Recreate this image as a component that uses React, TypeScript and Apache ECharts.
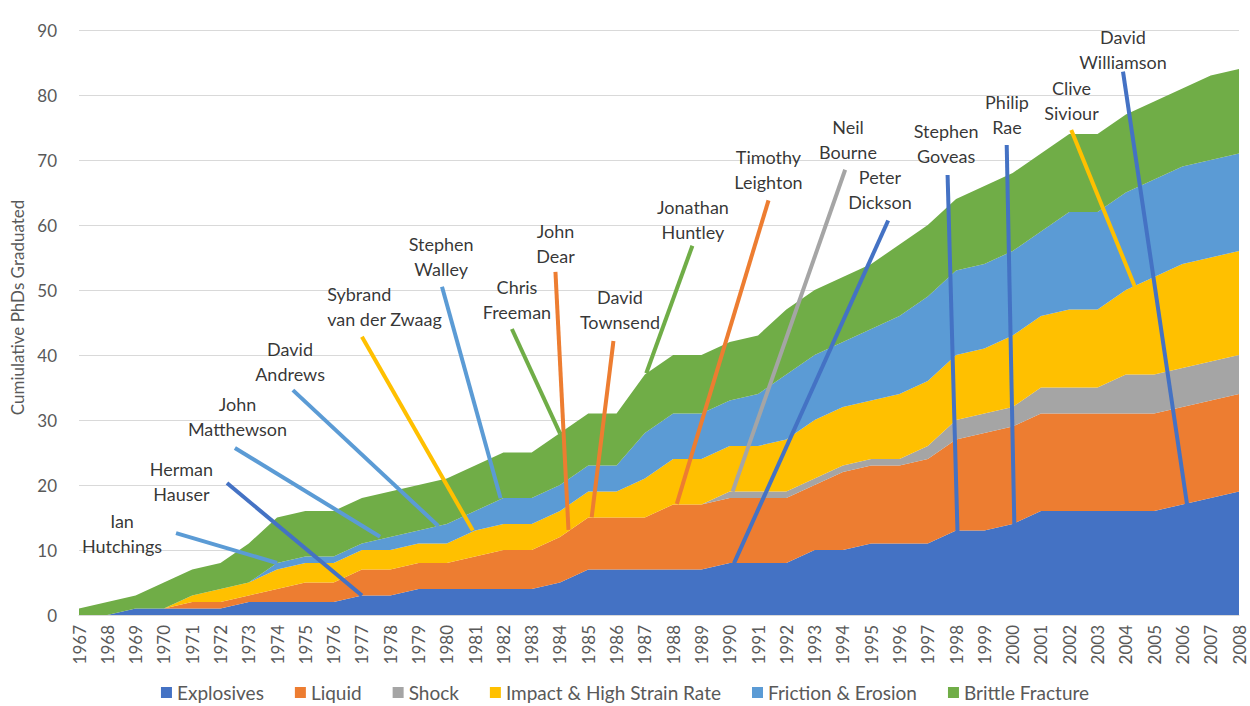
import React, { useEffect, useRef } from "react";
import * as echarts from "echarts";

const years = [
  "1967", "1968", "1969", "1970", "1971", "1972", "1973", "1974", "1975", "1976",
  "1977", "1978", "1979", "1980", "1981", "1982", "1983", "1984", "1985", "1986",
  "1987", "1988", "1989", "1990", "1991", "1992", "1993", "1994", "1995", "1996",
  "1997", "1998", "1999", "2000", "2001", "2002", "2003", "2004", "2005", "2006",
  "2007", "2008",
];

const explosives = [
  0, 0, 1, 1, 1, 1, 2, 2, 2, 2,
  3, 3, 4, 4, 4, 4, 4, 5, 7, 7,
  7, 7, 7, 8, 8, 8, 10, 10, 11, 11,
  11, 13, 13, 14, 16, 16, 16, 16, 16, 17,
  18, 19,
];
const liquid = [
  0, 0, 0, 0, 1, 1, 1, 2, 3, 3,
  4, 4, 4, 4, 5, 6, 6, 7, 8, 8,
  8, 10, 10, 10, 10, 10, 10, 12, 12, 12,
  13, 14, 15, 15, 15, 15, 15, 15, 15, 15,
  15, 15,
];
const shock = [
  0, 0, 0, 0, 0, 0, 0, 0, 0, 0,
  0, 0, 0, 0, 0, 0, 0, 0, 0, 0,
  0, 0, 0, 1, 1, 1, 1, 1, 1, 1,
  2, 3, 3, 3, 4, 4, 4, 6, 6, 6,
  6, 6,
];
const impact = [
  0, 0, 0, 0, 1, 2, 2, 3, 3, 3,
  3, 3, 3, 3, 4, 4, 4, 4, 4, 4,
  6, 7, 7, 7, 7, 8, 9, 9, 9, 10,
  10, 10, 10, 11, 11, 12, 12, 13, 15, 16,
  16, 16,
];
const friction = [
  0, 0, 0, 0, 0, 0, 0, 1, 1, 1,
  1, 2, 2, 3, 3, 4, 4, 4, 4, 4,
  7, 7, 7, 7, 8, 10, 10, 10, 11, 12,
  13, 13, 13, 13, 13, 15, 15, 15, 15, 15,
  15, 15,
];
const brittle = [
  1, 2, 2, 4, 4, 4, 6, 7, 7, 7,
  7, 7, 7, 7, 7, 7, 7, 8, 8, 8,
  9, 9, 9, 9, 9, 10, 10, 10, 10, 11,
  11, 11, 12, 12, 12, 12, 12, 12, 12, 12,
  13, 13,
];

const seriesNames = [
  "Explosives",
  "Liquid",
  "Shock",
  "Impact & High Strain Rate",
  "Friction & Erosion",
  "Brittle Fracture",
];
const seriesValues = [explosives, liquid, shock, impact, friction, brittle];
const seriesColors = ["#4472C4", "#ED7D31", "#A5A5A5", "#FFC000", "#5B9BD5", "#70AD47"];

const yTicks = { min: 0, max: 90, interval: 10 };

// Annotations (data coordinates: [year, cumulative PhDs])
const annotationNames = [
  "Ian\nHutchings",
  "Herman\nHauser",
  "John\nMatthewson",
  "David\nAndrews",
  "Sybrand\nvan der Zwaag",
  "Stephen\nWalley",
  "John\nDear",
  "Chris\nFreeman",
  "David\nTownsend",
  "Jonathan\nHuntley",
  "Timothy\nLeighton",
  "Neil\nBourne",
  "Peter\nDickson",
  "Stephen\nGoveas",
  "Philip\nRae",
  "Clive\nSiviour",
  "David\nWilliamson",
];
const annotationSeriesIdx = [4, 0, 4, 4, 3, 4, 1, 5, 1, 5, 1, 2, 0, 0, 0, 3, 0];
const annotationLabelAt = [
  [1968.52, 12.6],
  [1970.62, 20.5],
  [1972.6, 30.5],
  [1974.46, 39],
  [1975.77, 47.4],
  [1979.8, 55.1],
  [1983.84, 57.2],
  [1982.48, 48.5],
  [1986.12, 47],
  [1988.7, 60.8],
  [1991.37, 68.5],
  [1994.18, 73.15],
  [1995.31, 65.5],
  [1997.65, 72.5],
  [1999.8, 77],
  [2002.08, 79.1],
  [2003.9, 87],
];
const annotationLeftAligned = [false, false, false, false, true, false, false, false, false, false, false, false, false, false, false, false, false];
const annotationLineFrom = [
  [1970.43, 12.6],
  [1972.23, 20.3],
  [1972.51, 25.7],
  [1974.56, 34.6],
  [1977.0, 42.8],
  [1979.83, 50.5],
  [1983.84, 52.8],
  [1982.3, 44.0],
  [1985.89, 42.15],
  [1988.68, 56.8],
  [1991.37, 63.8],
  [1994.08, 68.5],
  [1995.6, 60.7],
  [1997.7, 67.7],
  [1999.79, 72.3],
  [2002.07, 74.6],
  [2003.9, 83.6],
];
const annotationLineTo = [
  [1974, 8],
  [1977, 3],
  [1977.64, 12.05],
  [1979.7, 13.7],
  [1980.92, 13],
  [1981.9, 17.95],
  [1984.3, 13.1],
  [1984.0, 27.95],
  [1985.12, 15.03],
  [1987.05, 37.2],
  [1988.13, 17.1],
  [1990.1, 18.97],
  [1990.15, 7.95],
  [1998.05, 12.8],
  [2000.06, 13.75],
  [2004.33, 50.4],
  [2006.17, 16.85],
];

const FONT = "Lato, 'Open Sans', sans-serif";

export default function App() {
  const ref = useRef<HTMLDivElement>(null);

  useEffect(() => {
    if (!ref.current) return;
    const chart = echarts.init(ref.current, null, { renderer: "svg" });

    const areaSeries = seriesNames.map((name, i) => ({
      name,
      type: "line",
      stack: "total",
      xAxisIndex: 0,
      symbol: "none",
      lineStyle: { width: 0 },
      areaStyle: { color: seriesColors[i], opacity: 1 },
      itemStyle: { color: seriesColors[i] },
      z: 2,
      data: seriesValues[i],
    }));

    const leaderSeries = annotationNames.map((n, i) => ({
      name: "leader-" + i,
      type: "line",
      xAxisIndex: 1,
      symbol: "none",
      silent: true,
      z: 4,
      lineStyle: { color: seriesColors[annotationSeriesIdx[i]], width: 4, cap: "butt" },
      data: [annotationLineFrom[i], annotationLineTo[i]],
    }));

    const labelSeries = {
      name: "annotation-labels",
      type: "scatter",
      xAxisIndex: 1,
      symbolSize: 1,
      silent: true,
      z: 5,
      itemStyle: { color: "rgba(0,0,0,0)" },
      label: {
        show: true,
        position: "inside",
        formatter: "{b}",
        color: "#000",
        fontFamily: FONT,
        fontSize: 18,
        lineHeight: 25,
      },
      data: annotationNames.map((n, i) => ({
        name: n,
        value: annotationLabelAt[i],
        label: annotationLeftAligned[i] ? { align: "left" } : undefined,
      })),
    };

    chart.setOption({
      animation: false,
      backgroundColor: "#fff",
      grid: { left: 79, right: 11, top: 30, bottom: 91, containLabel: false },
      legend: {
        data: seriesNames,
        left: "center",
        top: 683,
        padding: 0,
        icon: "rect",
        itemWidth: 11,
        itemHeight: 11,
        itemGap: 31,
        textStyle: { fontFamily: FONT, fontSize: 19, color: "#595959" },
      },
      xAxis: [
        {
          type: "category",
          data: years,
          boundaryGap: false,
          axisLine: { show: true, lineStyle: { color: "#D9D9D9", width: 1 } },
          axisTick: { show: false },
          splitLine: { show: false },
          axisLabel: {
            interval: 0,
            rotate: 90,
            margin: 10,
            fontFamily: FONT,
            fontSize: 17,
            color: "#595959",
          },
        },
        {
          type: "value",
          min: Number(years[0]),
          max: Number(years[years.length - 1]),
          show: false,
          splitLine: { show: false },
        },
      ],
      yAxis: {
        type: "value",
        min: yTicks.min,
        max: yTicks.max,
        interval: yTicks.interval,
        name: "Cumiulative PhDs Graduated",
        nameLocation: "middle",
        nameRotate: 90,
        nameGap: 50,
        nameTextStyle: { fontFamily: FONT, fontSize: 17, color: "#595959", padding: [0, 0, 0, 30] },
        axisLine: { show: false },
        axisTick: { show: false },
        splitLine: { lineStyle: { color: "#D9D9D9", width: 1 } },
        axisLabel: { margin: 22, fontFamily: FONT, fontSize: 17, color: "#595959" },
      },
      series: [...areaSeries, ...leaderSeries, labelSeries],
    });

    return () => chart.dispose();
  }, []);

  return (
    <div
      ref={ref}
      style={{ position: "fixed", left: 0, top: 0, width: 1250, height: 706, background: "#fff" }}
    />
  );
}
